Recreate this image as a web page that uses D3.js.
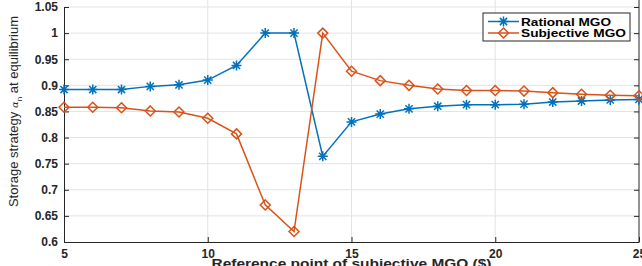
<!DOCTYPE html>
<html>
<head>
<meta charset="utf-8">
<script src="https://cdn.jsdelivr.net/npm/d3@7"></script>
<style>
  body { margin: 0; background: #fff; }
  svg { display: block; }
</style>
</head>
<body>
<div id="chart"></div>
<script>
// reference points ($)
const refPoints = [5, 6, 7, 8, 9, 10, 11, 12, 13, 14, 15, 16, 17, 18, 19, 20, 21, 22, 23, 24, 25];
const rationalMGO = [0.892, 0.892, 0.892, 0.898, 0.901, 0.910, 0.938, 1.0, 1.0, 0.764, 0.830,
  0.845, 0.855, 0.860, 0.863, 0.863, 0.864, 0.868, 0.870, 0.872, 0.873];
const subjectiveMGO = [0.858, 0.858, 0.857, 0.851, 0.849, 0.837, 0.807, 0.671, 0.620, 1.0, 0.927,
  0.909, 0.900, 0.893, 0.890, 0.890, 0.889, 0.886, 0.883, 0.881, 0.880];
const xTicks = [5, 10, 15, 20, 25];
const yTicks = [0.6, 0.65, 0.7, 0.75, 0.8, 0.85, 0.9, 0.95, 1, 1.05];
const seriesNames = ["Rational MGO", "Subjective MGO"];

const width = 642, height = 266;
const plotLeft = 64, plotRight = 639, plotTop = 7, plotBottom = 242;
const blue = "#0072BD", orange = "#D95319";
const font = "'Liberation Sans', Arial, Helvetica, sans-serif";

const svg = d3.select("#chart").append("svg")
  .attr("width", width)
  .attr("height", height)
  .attr("font-family", font);

const x = d3.scaleLinear().domain([5, 25]).range([plotLeft, plotRight]);
const y = d3.scaleLinear().domain([0.6, 1.05]).range([plotBottom, plotTop]);

// grid
svg.append("g").selectAll("line")
  .data(yTicks.slice(1))
  .join("line")
  .attr("x1", plotLeft).attr("x2", plotRight)
  .attr("y1", d => y(d)).attr("y2", d => y(d))
  .attr("stroke", "#e3e3e3").attr("stroke-width", 1);

svg.append("g").selectAll("line")
  .data(xTicks.slice(1, -1))
  .join("line")
  .attr("x1", d => x(d)).attr("x2", d => x(d))
  .attr("y1", 0).attr("y2", plotBottom)
  .attr("stroke", "#e3e3e3").attr("stroke-width", 1);

// axes
const axisColor = "#262626";
const xAxis = svg.append("g")
  .attr("transform", `translate(0,${plotBottom})`)
  .call(d3.axisBottom(x).tickValues(xTicks).tickSizeInner(-5).tickSizeOuter(0).tickPadding(7).tickFormat(d3.format("d")));
const yAxis = svg.append("g")
  .attr("transform", `translate(${plotLeft},0)`)
  .call(d3.axisLeft(y).tickValues(yTicks).tickSizeInner(-5).tickSizeOuter(0).tickPadding(6).tickFormat(d => String(+d.toFixed(2))));
const yAxisR = svg.append("g")
  .attr("transform", `translate(${plotRight},0)`)
  .call(d3.axisRight(y).tickValues(yTicks).tickSizeInner(-5).tickSizeOuter(0).tickFormat(""));

[xAxis, yAxis, yAxisR].forEach(g => {
  g.select(".domain").attr("stroke", axisColor).attr("stroke-width", 1);
  g.selectAll(".tick line").attr("stroke", axisColor);
  g.selectAll("text")
    .attr("fill", "#262626")
    .attr("font-size", 12)
    .attr("font-weight", "bold")
    .attr("font-family", font);
});
yAxisR.select(".domain").attr("d", `M0,0V${plotBottom}`);

// series
const data = [
  { name: seriesNames[0], color: blue, marker: "star", values: rationalMGO, textLen: 90 },
  { name: seriesNames[1], color: orange, marker: "diamond", values: subjectiveMGO, textLen: 105 }
];

const line = d3.line()
  .x((d, i) => x(refPoints[i]))
  .y(d => y(d));

function drawMarker(g, type, color) {
  const r = 5;
  if (type === "star") {
    g.append("path")
      .attr("d", `M${-r},0H${r}M0,${-r}V${r}M${-r * 0.72},${-r * 0.72}L${r * 0.72},${r * 0.72}M${-r * 0.72},${r * 0.72}L${r * 0.72},${-r * 0.72}`)
      .attr("stroke", color).attr("stroke-width", 1.5).attr("fill", "none");
  } else {
    g.append("path")
      .attr("d", `M0,${-r}L${r},0L0,${r}L${-r},0Z`)
      .attr("stroke", color).attr("stroke-width", 1.5).attr("fill", "none");
  }
}

const seriesG = svg.append("g").selectAll("g.series")
  .data(data)
  .join("g")
  .attr("class", "series");

seriesG.append("path")
  .attr("d", d => line(d.values))
  .attr("fill", "none")
  .attr("stroke", d => d.color)
  .attr("stroke-width", 1.5);

seriesG.each(function (d) {
  const g = d3.select(this);
  d.values.forEach((v, i) => {
    const m = g.append("g").attr("transform", `translate(${x(refPoints[i])},${y(v)})`);
    drawMarker(m, d.marker, d.color);
  });
});

// legend
const legend = svg.append("g").attr("transform", "translate(483,13)");
legend.append("rect")
  .attr("width", 147).attr("height", 28)
  .attr("fill", "#fff").attr("stroke", axisColor).attr("stroke-width", 1);
data.forEach((d, i) => {
  const ly = 8.5 + i * 11.5;
  legend.append("line")
    .attr("x1", 5).attr("x2", 36).attr("y1", ly).attr("y2", ly)
    .attr("stroke", d.color).attr("stroke-width", 1.5);
  const m = legend.append("g").attr("transform", `translate(20.5,${ly})`);
  drawMarker(m, d.marker, d.color);
  legend.append("text")
    .attr("x", 38).attr("y", ly + 4)
    .attr("font-size", 11).attr("font-weight", "bold")
    .attr("textLength", d.textLen).attr("lengthAdjust", "spacingAndGlyphs")
    .attr("fill", "#000")
    .text(d.name);
});

// axis titles
svg.append("text")
  .attr("x", (plotLeft + plotRight) / 2).attr("y", 268)
  .attr("text-anchor", "middle")
  .attr("font-size", 13).attr("font-weight", "bold")
  .attr("textLength", 280).attr("lengthAdjust", "spacingAndGlyphs")
  .attr("fill", "#262626")
  .text("Reference point of subjective MGO ($)");

const yTitle = svg.append("text")
  .attr("transform", `translate(18,${(plotTop + plotBottom) / 2 - 13}) rotate(-90)`)
  .attr("text-anchor", "middle")
  .attr("font-size", 13)
  .attr("fill", "#262626");
yTitle.append("tspan").text("Storage strategy ");
yTitle.append("tspan").attr("font-family", "'DejaVu Serif', serif").attr("font-style", "italic").attr("font-size", 10).text("α");
yTitle.append("tspan").attr("font-size", 8).attr("dy", 4).text("n");
yTitle.append("tspan").attr("dy", -4).text(" at equilibrium");
</script>
</body>
</html>
